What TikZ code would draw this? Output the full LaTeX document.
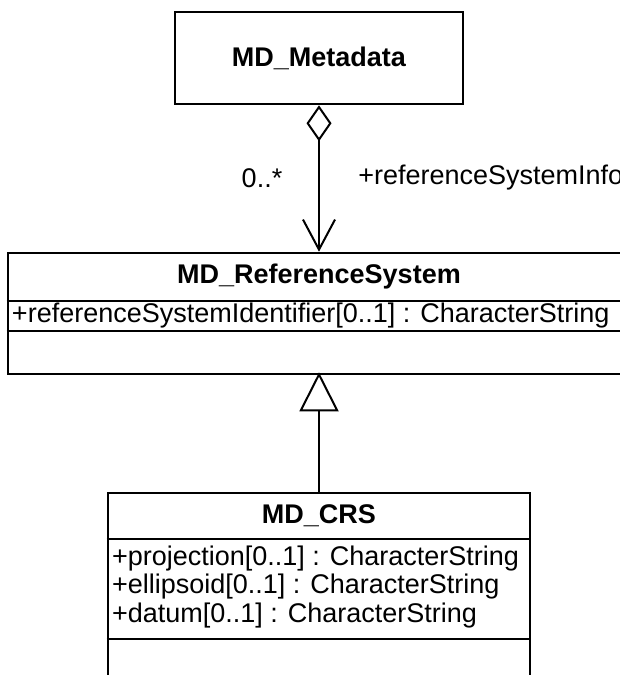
\documentclass[tikz,border=0pt]{standalone}
\usepackage{fontspec}
\setmainfont{Liberation Sans}
\usetikzlibrary{arrows.meta, positioning}

\begin{document}
\begin{tikzpicture}[x=1pt, y=-1pt, line width=2pt,
    font=\fontsize{27}{28.5}\selectfont,
    classbox/.style={draw, line width=2.6pt, inner sep=0pt},
    classname/.style={font=\fontsize{27}{28.5}\selectfont\bfseries},
    member/.style={anchor=west, align=left, inner sep=0pt},
    aggregation/.style={{Diamond[open, length=36pt, width=25pt]}-{Straight Barb[length=30pt, width=32pt]}},
    inherits/.style={-{Triangle[open, length=39pt, width=39pt]}, shorten >=-3pt}]
    \useasboundingbox (0,0) rectangle (620,675);
    \clip (0,0) rectangle (620,675);

    % classes
    \node[classbox, minimum width=288pt, minimum height=92pt] (metadata) at (319,58) {};
    \node[classname] (metadataname) at (metadata) {MD\_Metadata};

    \node[classbox, minimum width=622pt, minimum height=121pt] (refsys) at (319,313.5) {};
    \node[classname] (refsysname) at (319,277) {MD\_ReferenceSystem};
    \node[member] (refsysattr) at (11,316) {+referenceSystemIdentifier[0..1] : CharacterString};
    \draw[line width=2.6pt] (refsys.west |- 0,301) -- (refsys.east |- 0,301)
                            (refsys.west |- 0,331) -- (refsys.east |- 0,331);

    \node[classbox, minimum width=422pt, minimum height=240pt] (crs) at (319,613) {};
    \node[classname] (crsname) at (319,516) {MD\_CRS};
    \node[member] (crsattr) at (111,587) {+projection[0..1] : CharacterString\\
        +ellipsoid[0..1] : CharacterString\\+datum[0..1] : CharacterString};
    \draw[line width=2.6pt] (crs.west |- 0,539) -- (crs.east |- 0,539)
                            (crs.west |- 0,639) -- (crs.east |- 0,639);

    % association labels
    \node (mult) at (262,178) {0..*};
    \node[anchor=west] (role) at (354,178) {+referenceSystemInfo};

    \draw[aggregation] (metadata) -- (refsys);
    \draw[inherits] (crs) -- (refsys);
\end{tikzpicture}
\end{document}
